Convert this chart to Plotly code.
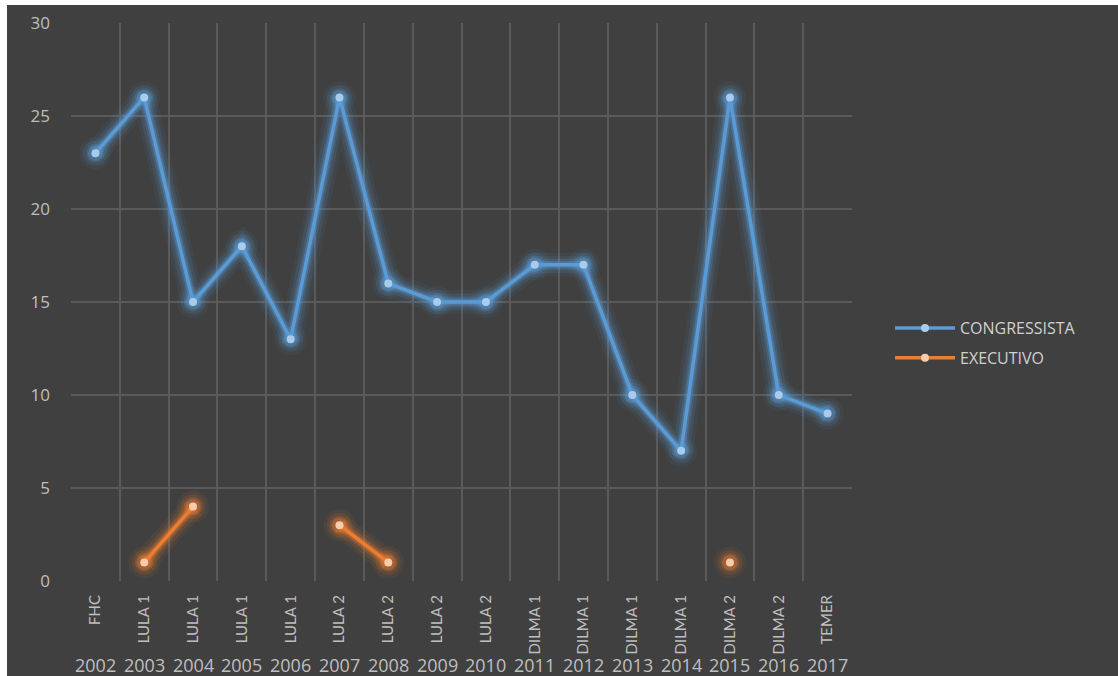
import plotly.graph_objects as go

# Data
years = ["2002", "2003", "2004", "2005", "2006", "2007", "2008", "2009",
         "2010", "2011", "2012", "2013", "2014", "2015", "2016", "2017"]
governos = ["FHC", "LULA 1", "LULA 1", "LULA 1", "LULA 1", "LULA 2", "LULA 2", "LULA 2",
            "LULA 2", "DILMA 1", "DILMA 1", "DILMA 1", "DILMA 1", "DILMA 2", "DILMA 2", "TEMER"]
congressista = [23, 26, 15, 18, 13, 26, 16, 15, 15, 17, 17, 10, 7, 26, 10, 9]
executivo = [None, 1, 4, None, None, 3, 1, None, None, None, None, None, None, 1, None, None]
y_ticks = [0, 5, 10, 15, 20, 25, 30]

BG = "#404040"
GRID = "#5a5a5a"
TXT = "#bfbfbf"
FONT = "Lato"
WIDE = "Open Sans"

series = [
    ("CONGRESSISTA", congressista, (91, 155, 213), "#a9cbec"),
    ("EXECUTIVO", executivo, (237, 125, 49), "#f8cbad"),
]

fig = go.Figure()

# soft glow underneath each line
for name, vals, rgb, _ in series:
    for w, a in [(24, 0.07), (17, 0.12), (11, 0.2), (7, 0.35)]:
        fig.add_trace(go.Scatter(
            x=years, y=vals, mode="lines+markers",
            line=dict(color=f"rgba({rgb[0]},{rgb[1]},{rgb[2]},{a})", width=w),
            marker=dict(color=f"rgba({rgb[0]},{rgb[1]},{rgb[2]},{a})", size=w + 8),
            hoverinfo="skip", showlegend=False, connectgaps=False,
        ))

for name, vals, rgb, mk in series:
    fig.add_trace(go.Scatter(
        x=years, y=vals, mode="lines+markers", name=name, legendgroup=name,
        line=dict(color=f"rgb({rgb[0]},{rgb[1]},{rgb[2]})", width=3.5),
        marker=dict(color=mk, size=8, line=dict(width=0)),
        connectgaps=False,
    ))

# year labels under the rotated government labels (positioned by category index)
for i, yr in enumerate(years):
    fig.add_annotation(x=i, y=-0.1505, xref="x", yref="paper", text=yr,
                       showarrow=False, font=dict(family=WIDE, size=18, color=TXT),
                       xanchor="center", yanchor="middle")

# dark chart panel over a white page
fig.add_shape(type="rect", xref="paper", yref="paper",
              x0=-64 / 781, x1=(1118 - 71) / 781, y0=-95 / 558, y1=(581 - 5) / 558,
              fillcolor=BG, line=dict(width=0), layer="below")

fig.update_layout(
    width=1118, height=676,
    margin=dict(l=71, r=266, t=23, b=95),
    paper_bgcolor="white", plot_bgcolor=BG,
    font=dict(family=FONT, color=TXT),
    legend=dict(x=(890 - 71) / 781, y=0.4265, xanchor="left", yanchor="middle",
                bgcolor="rgba(0,0,0,0)", font=dict(family=WIDE, size=16, color="#d0d0d0"),
                itemwidth=60, tracegroupgap=6),
)
fig.update_xaxes(
    type="category", range=[-0.5, len(years) - 0.5],
    tickmode="array", tickvals=years, ticktext=governos,
    tickangle=-90, tickson="boundaries", ticks="", ticklabelstandoff=10,
    showgrid=True, gridcolor=GRID, gridwidth=2, showline=False, zeroline=False,
    tickfont=dict(family=FONT, size=15, color=TXT),
)
fig.update_yaxes(
    range=[0, 30], tickvals=y_ticks, showgrid=True, gridcolor=GRID, gridwidth=2,
    zeroline=False, showline=False, ticks="", ticklabelstandoff=20,
    tickfont=dict(family=WIDE, size=17, color=TXT),
)

fig.write_html("out.html")
